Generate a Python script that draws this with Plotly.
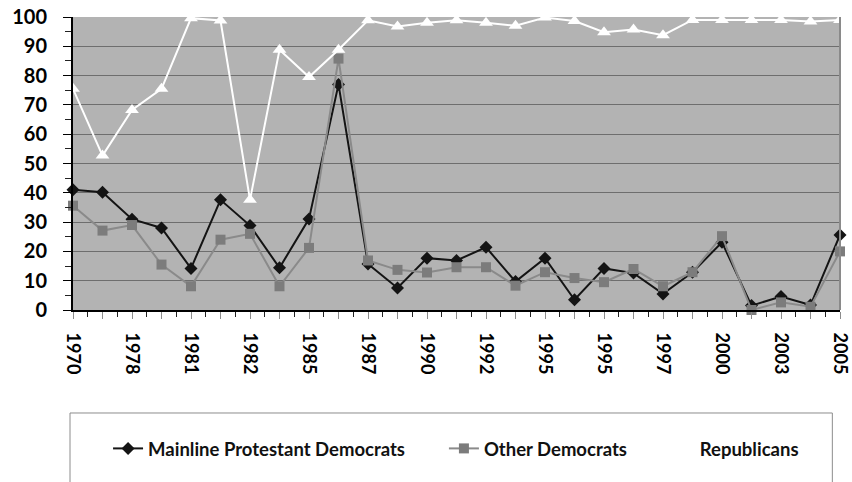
import plotly.graph_objects as go

# Survey waves in chronological order; only every other wave gets a printed label
tick_labels = ["1970", "1978", "1981", "1982", "1985", "1987", "1990",
               "1992", "1995", "1995", "1997", "2000", "2003", "2005"]

mainline_dem = [41, 40.2, 31, 28, 14.2, 37.6, 28.8, 14.4, 31.1, 77, 15.7, 7.5, 17.7,
                16.9, 21.4, 9.7, 17.7, 3.5, 14.2, 12.6, 5.5, 12.9, 23.1, 1.5, 4.6, 1.7, 25.6]
other_dem = [35.6, 27.1, 29, 15.5, 8.1, 24, 26, 8.1, 21.2, 85.8, 16.9, 13.7, 12.8,
             14.6, 14.6, 8.3, 12.9, 10.9, 9.5, 14, 8.1, 12.9, 25.2, 0, 2.6, 1.1, 20]
republicans = [75.5, 52.7, 68.3, 75.5, 99.6, 98.8, 37.6, 88.8, 79.5, 88.8, 98.9, 96.8, 98,
               98.9, 98, 97, 99.8, 98.6, 94.8, 95.7, 93.8, 99, 99, 99, 99, 98.5, 99]

waves = list(range(len(mainline_dem)))
last = len(waves) - 1

FONT = "Lato"
fig = go.Figure()

fig.add_trace(go.Scatter(
    x=waves, y=mainline_dem, name="Mainline Protestant Democrats",
    mode="lines+markers", line=dict(color="#141414", width=2),
    marker=dict(symbol="diamond", size=10, color="#141414"),
    cliponaxis=False, legend="legend"))
fig.add_trace(go.Scatter(
    x=waves, y=other_dem, name="Other Democrats",
    mode="lines+markers", line=dict(color="#8a8a8a", width=2),
    marker=dict(symbol="square", size=10, color="#7c7c7c"),
    cliponaxis=False, legend="legend2"))
fig.add_trace(go.Scatter(
    x=waves, y=republicans, name="Republicans",
    mode="lines+markers", line=dict(color="#ffffff", width=2),
    marker=dict(symbol="triangle-up", size=12, color="#ffffff"),
    cliponaxis=False, legend="legend3"))

legend_font = dict(family=FONT, size=18.5, color="#111111", weight="bold")
legend_common = dict(orientation="h", yanchor="middle", y=-0.474, xanchor="left",
                     bgcolor="rgba(0,0,0,0)", borderwidth=0, font=legend_font)

fig.update_layout(
    width=852, height=482,
    margin=dict(l=73, r=12, t=17, b=172, autoexpand=False),
    paper_bgcolor="#ffffff",
    plot_bgcolor="#b3b3b3",
    showlegend=True,
    legend=dict(x=0.0457, **legend_common),
    legend2=dict(x=0.4836, **legend_common),
    legend3=dict(x=0.765, **legend_common),
    xaxis=dict(
        range=[0, last],
        tickmode="array", tickvals=waves,
        ticktext=[tick_labels[i // 2] if i % 2 == 0 else "" for i in waves],
        tickangle=90, ticklabeloverflow="allow",
        tickfont=dict(family=FONT, size=18, color="#000000", weight="bold"),
        ticks="outside", ticklen=7, tickwidth=1, tickcolor="#8c8c8c",
        minor=dict(tick0=0.5, dtick=1, ticks="outside", ticklen=5,
                   tickcolor="#222222", tickwidth=1, showgrid=False),
        showgrid=False, zeroline=False,
        showline=True, linecolor="#000000", linewidth=2,
        ticklabelstandoff=10,
    ),
    xaxis2=dict(
        range=[0, last], overlaying="x", anchor="y",
        tickmode="array", tickvals=waves, showticklabels=False,
        ticks="inside", ticklen=7, tickwidth=1, tickcolor="#8c8c8c",
        minor=dict(tick0=0.5, dtick=1, ticks="inside", ticklen=5,
                   tickcolor="#222222", tickwidth=1, showgrid=False),
        showgrid=False, zeroline=False, showline=False,
    ),
    yaxis=dict(
        range=[0, 100], tickmode="linear", tick0=0, dtick=10,
        tickfont=dict(family=FONT, size=20, color="#000000", weight="bold"),
        ticks="outside", ticklen=8, tickwidth=1, tickcolor="#000000",
        minor=dict(tick0=5, dtick=10, ticks="outside", ticklen=6,
                   tickcolor="#222222", tickwidth=1, showgrid=False),
        showgrid=True, gridcolor="#6e6e6e", gridwidth=1,
        zeroline=False, showline=True, linecolor="#000000", linewidth=2,
        ticklabelstandoff=12,
    ),
    yaxis2=dict(
        range=[0, 100], overlaying="y", anchor="x", side="left",
        tickmode="linear", tick0=0, dtick=10, showticklabels=False,
        ticks="inside", ticklen=0,
        minor=dict(tick0=5, dtick=10, ticks="inside", ticklen=6,
                   tickcolor="#222222", tickwidth=1, showgrid=False),
        showgrid=False, zeroline=False, showline=False,
    ),
    shapes=[
        # right-hand frame of the plotting area
        dict(type="line", xref="paper", yref="paper", x0=1, x1=1, y0=0, y1=1,
             line=dict(color="#8a8a8a", width=2)),
        # frame around the legend
        dict(type="rect", xref="paper", yref="paper",
             x0=-0.0039, x1=0.99, y0=-0.3515, y1=-0.62,
             line=dict(color="#8c8c8c", width=1), fillcolor="rgba(0,0,0,0)"),
    ],
)

fig.write_html("out.html")
